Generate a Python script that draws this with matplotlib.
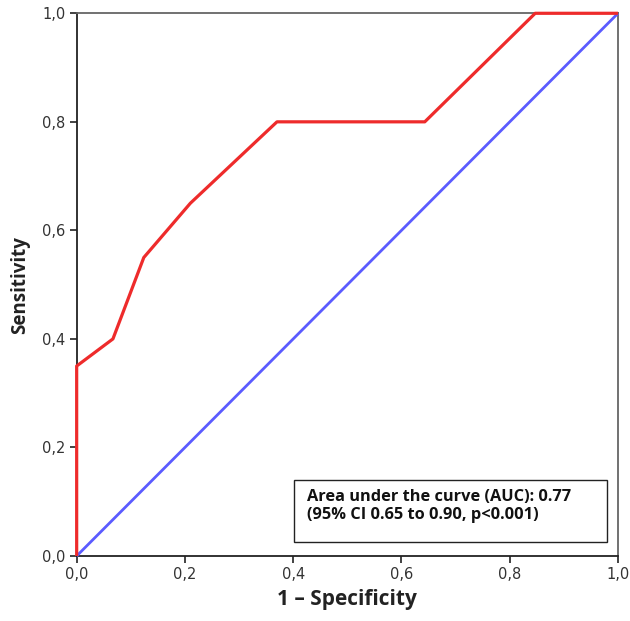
import matplotlib.pyplot as plt
from matplotlib.patches import Rectangle
from matplotlib.ticker import FuncFormatter

# ROC curve
fpr = [0.0, 0.0, 0.067, 0.124, 0.21, 0.37, 0.643, 0.847, 1.0]
tpr = [0.0, 0.35, 0.40, 0.55, 0.65, 0.80, 0.80, 1.0, 1.0]
ref_x = [0.0, 1.0]
ref_y = [0.0, 1.0]
ticks = [0.0, 0.2, 0.4, 0.6, 0.8, 1.0]
auc_text = 'Area under the curve (AUC): 0.77\n(95% CI 0.65 to 0.90, p<0.001)'

fig = plt.figure(figsize=(6.3, 6.21), dpi=100)
ax = fig.add_axes([0.1217, 0.1047, 0.8593, 0.8739])

ax.plot(ref_x, ref_y, color='#5b5bff', lw=2.0, solid_capstyle='butt', clip_on=False, zorder=3)
ax.plot(fpr, tpr, color='#ee2b2b', lw=2.3, solid_capstyle='butt', clip_on=False, zorder=4)

ax.set_xlim(0, 1)
ax.set_ylim(0, 1)
ax.set_xticks(ticks)
ax.set_yticks(ticks)
fmt = FuncFormatter(lambda v, p: ('%.1f' % v).replace('.', ','))
ax.xaxis.set_major_formatter(fmt)
ax.yaxis.set_major_formatter(fmt)
ax.tick_params(direction='out', length=5, width=1.2, color='#222222',
               labelsize=10.5, labelcolor='#333333', pad=3)

for s in ['left', 'bottom']:
    ax.spines[s].set_color('#222222')
    ax.spines[s].set_linewidth(1.3)
for s in ['top', 'right']:
    ax.spines[s].set_color('#666666')
    ax.spines[s].set_linewidth(1.3)

ax.set_xlabel('1 – Specificity', fontsize=15, fontweight='bold', family='Open Sans',
              color='#222222', labelpad=5)
ax.set_ylabel('Sensitivity', fontsize=13.5, fontweight='bold', family='Open Sans',
              color='#222222', labelpad=9)

ax.add_patch(Rectangle((0.401, 0.025), 0.578, 0.115, transform=ax.transAxes,
                       facecolor='white', edgecolor='#222222', lw=1.0, zorder=5))
ax.text(0.425, 0.0915, auc_text, transform=ax.transAxes, fontsize=11.8,
        fontweight='bold', family='Open Sans', color='#111111', va='center',
        ha='left', linespacing=1.15, zorder=6)

fig.savefig('out.png', dpi=100)
